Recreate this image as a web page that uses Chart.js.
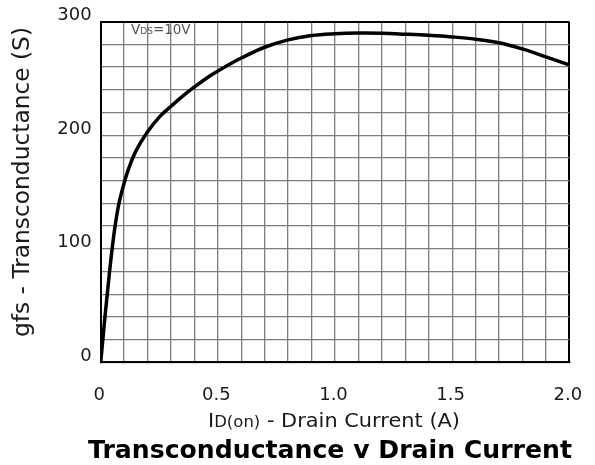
<!DOCTYPE html>
<html>
<head>
<meta charset="utf-8">
<script src="https://cdn.jsdelivr.net/npm/chart.js@4"></script>
<style>
  html, body { margin: 0; padding: 0; background: #fff; }
  canvas { display: block; }
</style>
</head>
<body>
<canvas id="c" width="595" height="465"></canvas>
<script>
// ---- data ----
const drainCurrentA = [0, 0.01, 0.02, 0.03, 0.04, 0.05, 0.06, 0.07, 0.08, 0.10, 0.12, 0.15, 0.20, 0.25, 0.30, 0.35, 0.40, 0.45, 0.50, 0.55, 0.60, 0.70, 0.80, 0.90, 1.0, 1.1, 1.2, 1.3, 1.4, 1.5, 1.6, 1.7, 1.8, 1.9, 2.0];
const transconductanceS = [0, 22, 44, 64, 84, 102, 118, 131, 142, 158, 171, 186, 203, 216, 225.5, 234.5, 242.5, 250, 256.5, 262.5, 268, 277.5, 284, 287.8, 289.4, 290, 289.8, 289, 288, 286.6, 284.6, 281.5, 276, 269, 262];
const xTickLabels = ['0', '0.5', '1.0', '1.5', '2.0'];
const xTickValues = [0, 0.5, 1.0, 1.5, 2.0];
const yTickLabels = ['0', '100', '200', '300'];
const yTickValues = [0, 100, 200, 300];
const chartTitle = 'Transconductance v Drain Current';
const yAxisTitle = 'gfs - Transconductance (S)';
const xAxisTitleParts = [['I', 'big'], ['D(on)', 'small'], [' - Drain Current (A)', 'big']];
const conditionParts = [['V', 'big'], ['DS', 'small'], ['=10V', 'big']];

const points = drainCurrentA.map((x, i) => ({ x: x, y: transconductanceS[i] }));

const FONT = 'DejaVu Sans';
const GRID = '#7d7d7d';

const textPlugin = {
  id: 'texts',
  afterDraw(chart) {
    const ctx = chart.ctx;
    ctx.save();

    // condition label inside plot
    ctx.fillStyle = '#555';
    ctx.textBaseline = 'alphabetic';
    ctx.textAlign = 'left';
    let x = 131;
    const base = 33.5;
    conditionParts.forEach(([t, k]) => {
      ctx.font = (k === 'big' ? '13.5px ' : '9px ') + FONT;
      ctx.fillText(t, x, base);
      x += ctx.measureText(t).width;
    });

    // x axis title with subscript part
    ctx.fillStyle = '#1a1a1a';
    const fontsX = { big: '19px ' + FONT, small: '15px ' + FONT };
    let total = 0;
    xAxisTitleParts.forEach(([t, k]) => { ctx.font = fontsX[k]; total += ctx.measureText(t).width; });
    const target = 252;
    const sx = target / total;
    ctx.save();
    ctx.translate(334 - target / 2, 426.5);
    ctx.scale(sx, 1);
    let px = 0;
    xAxisTitleParts.forEach(([t, k]) => {
      ctx.font = fontsX[k];
      ctx.fillText(t, px, 0);
      px += ctx.measureText(t).width;
    });
    ctx.restore();

    // y axis title
    ctx.save();
    ctx.font = '23px ' + FONT;
    ctx.fillStyle = '#1a1a1a';
    ctx.textAlign = 'center';
    ctx.textBaseline = 'middle';
    const wy = ctx.measureText(yAxisTitle).width;
    ctx.translate(23, 182);
    ctx.rotate(-Math.PI / 2);
    ctx.scale(310 / wy, 1);
    ctx.fillText(yAxisTitle, 0, 0);
    ctx.restore();

    // main title
    ctx.save();
    ctx.font = 'bold 25px ' + FONT;
    ctx.fillStyle = '#000';
    ctx.textAlign = 'center';
    ctx.textBaseline = 'alphabetic';
    const wt = ctx.measureText(chartTitle).width;
    ctx.translate(330, 458);
    ctx.scale(484 / wt, 1);
    ctx.fillText(chartTitle, 0, 0);
    ctx.restore();

    ctx.restore();
  }
};

new Chart(document.getElementById('c'), {
  type: 'line',
  data: {
    datasets: [{
      data: points,
      borderColor: '#000',
      borderWidth: 3.5,
      pointRadius: 0,
      fill: false,
      tension: 0.4,
      borderJoinStyle: 'round',
      borderCapStyle: 'round'
    }]
  },
  options: {
    responsive: false,
    animation: false,
    devicePixelRatio: 1,
    layout: { padding: { top: 21.7, right: 25.7, left: 0, bottom: 0 } },
    plugins: { legend: { display: false }, tooltip: { enabled: false }, title: { display: false } },
    scales: {
      x: {
        type: 'linear',
        min: 0, max: 2.0,
        afterFit(s) { s.height = 102.7; s.paddingLeft = 0; s.paddingRight = 0; },
        ticks: {
          stepSize: 0.1,
          autoSkip: false,
          maxRotation: 0,
          padding: 22,
          labelOffset: -1.5,
          color: '#1a1a1a',
          font: { family: FONT, size: 18 },
          callback(v) {
            const i = xTickValues.findIndex(t => Math.abs(t - v) < 1e-6);
            return i >= 0 ? xTickLabels[i] : '';
          }
        },
        grid: {
          drawTicks: false,
          color: (c) => (c.tick && Math.abs(c.tick.value - 2.0) < 1e-6) ? '#000' : GRID,
          lineWidth: (c) => (c.tick && Math.abs(c.tick.value - 2.0) < 1e-6) ? 2 : 1.3
        },
        border: { display: true, color: '#000', width: 2 }
      },
      y: {
        min: 0, max: 300,
        afterFit(s) { s.width = 100.7; s.paddingTop = 0; s.paddingBottom = 0; },
        ticks: {
          stepSize: 20,
          autoSkip: false,
          padding: 9,
          labelOffset: -6,
          color: '#1a1a1a',
          font: { family: FONT, size: 18 },
          callback(v) {
            const i = yTickValues.findIndex(t => Math.abs(t - v) < 1e-6);
            return i >= 0 ? yTickLabels[i] : '';
          }
        },
        grid: {
          drawTicks: false,
          color: (c) => (c.tick && Math.abs(c.tick.value - 300) < 1e-6) ? '#000' : GRID,
          lineWidth: (c) => (c.tick && Math.abs(c.tick.value - 300) < 1e-6) ? 2 : 1.3
        },
        border: { display: true, color: '#000', width: 2 }
      }
    }
  },
  plugins: [textPlugin]
});
</script>
</body>
</html>
